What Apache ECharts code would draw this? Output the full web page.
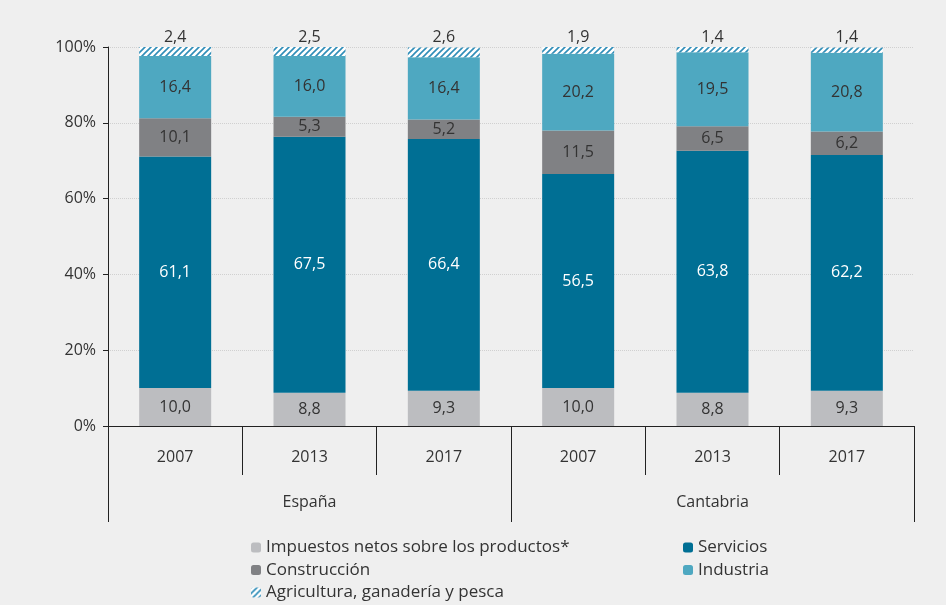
<!DOCTYPE html>
<html><head><meta charset="utf-8">
<script src="https://cdn.jsdelivr.net/npm/echarts@6/dist/echarts.min.js"></script>
<style>html,body{margin:0;padding:0;background:#efefef;}#c{width:946px;height:605px;}</style>
</head><body><div id="c"></div>
<script>
const years = ['2007','2013','2017','2007','2013','2017'];
const groups = ['España','Cantabria'];
const impuestos = [10.0, 8.8, 9.3, 10.0, 8.8, 9.3];
const servicios = [61.1, 67.5, 66.4, 56.5, 63.8, 62.2];
const construccion = [10.1, 5.3, 5.2, 11.5, 6.5, 6.2];
const industria = [16.4, 16.0, 16.4, 20.2, 19.5, 20.8];
const agricultura = [2.4, 2.5, 2.6, 1.9, 1.4, 1.4];
const yTicks = [0, 20, 40, 60, 80, 100];

const FONT = 'Open Sans';
function hatch() {
  const c = document.createElement('canvas');
  c.width = 6; c.height = 6;
  const g = c.getContext('2d');
  g.fillStyle = '#ffffff'; g.fillRect(0,0,6,6);
  g.strokeStyle = '#2f8db8'; g.lineWidth = 1.6;
  g.beginPath();
  g.moveTo(0,6); g.lineTo(6,0);
  g.moveTo(-3,3); g.lineTo(3,-3);
  g.moveTo(3,9); g.lineTo(9,3);
  g.stroke();
  return c;
}
const hatchPattern = {image: hatch(), repeat: 'repeat'};
const fmt = p => p.value.toFixed(1).replace('.', ',');
function mk(name, data, color, labelColor, pos) {
  return {
    name, type: 'bar', stack: 's', data, barWidth: 72,
    itemStyle: {color},
    label: {show: true, position: pos || 'inside', color: labelColor, fontFamily: FONT, fontSize: 16, formatter: fmt, distance: 2},
    emphasis: {disabled: true}
  };
}
const legendText = {fontFamily: FONT, fontSize: 17, color: '#333', lineHeight: 17};
const chart = echarts.init(document.getElementById('c'));
chart.setOption({
  backgroundColor: '#efefef',
  animation: false,
  grid: {left: 108, right: 32, top: 47, bottom: 179},
  legend: [
    {left: 246, top: 534, height: 90, orient: 'vertical', itemWidth: 10, itemHeight: 10, itemGap: 5.5,
     textStyle: legendText,
     data: ['Impuestos netos sobre los productos*', 'Construcción', 'Agricultura, ganadería y pesca']},
    {left: 678, top: 534, height: 90, orient: 'vertical', itemWidth: 10, itemHeight: 10, itemGap: 5.5,
     textStyle: legendText,
     data: ['Servicios', 'Industria']}
  ],
  xAxis: [
    {type: 'category', data: years, position: 'bottom',
     axisLine: {lineStyle: {color: '#222', width: 1}},
     axisTick: {show: true, length: 49, lineStyle: {color: '#222'}},
     axisLabel: {margin: 23, color: '#333', fontFamily: FONT, fontSize: 16}},
    {type: 'category', data: groups, position: 'bottom',
     axisLine: {show: false},
     axisTick: {show: true, length: 96, lineStyle: {color: '#222'}},
     axisLabel: {margin: 68, color: '#333', fontFamily: FONT, fontSize: 16}}
  ],
  yAxis: {type: 'value', min: 0, max: 100, interval: 20,
    axisLine: {show: true, lineStyle: {color: '#222'}},
    axisTick: {show: true, length: 5, lineStyle: {color: '#222'}},
    splitLine: {show: true, lineStyle: {color: '#d0d0d0', type: 'dotted'}},
    axisLabel: {formatter: v => yTicks.includes(v) ? v + '%' : '', color: '#333', fontFamily: FONT, fontSize: 16, margin: 12}},
  series: [
    mk('Impuestos netos sobre los productos*', impuestos, '#bcbdc0', '#333'),
    mk('Servicios', servicios, '#006f94', '#ffffff'),
    mk('Construcción', construccion, '#808184', '#333'),
    mk('Industria', industria, '#4ea8c1', '#333'),
    mk('Agricultura, ganadería y pesca', agricultura, hatchPattern, '#333', 'top')
  ]
});
</script></body></html>
